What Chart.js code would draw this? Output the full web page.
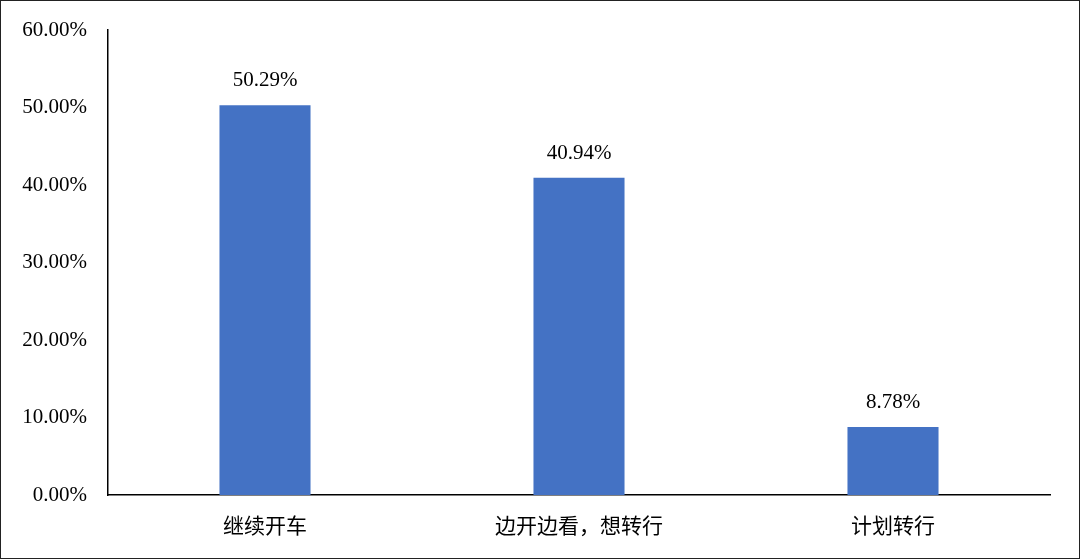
<!DOCTYPE html>
<html>
<head>
<meta charset="utf-8">
<script src="https://cdn.jsdelivr.net/npm/chart.js"></script>
<style>
  html, body { margin: 0; padding: 0; background: #fff; }
  #wrap { position: relative; width: 1078px; height: 557px; border: 1px solid #222; }
</style>
</head>
<body>
<div id="wrap"><canvas id="c" width="1078" height="557"></canvas></div>
<script>
const categories = ["继续开车", "边开边看，想转行", "计划转行"];
const values = [50.29, 40.94, 8.78];
const yTicks = [0, 10, 20, 30, 40, 50, 60];

const serif = "'Liberation Serif', 'Times New Roman', serif";
const cjk = "'Noto Sans CJK SC', 'Liberation Serif', serif";

// labels above each bar
const valueLabels = {
  id: "valueLabels",
  afterDatasetsDraw(chart) {
    const ctx = chart.ctx;
    const meta = chart.getDatasetMeta(0);
    ctx.save();
    ctx.font = "21px " + serif;
    ctx.fillStyle = "#000";
    ctx.textAlign = "center";
    ctx.textBaseline = "bottom";
    meta.data.forEach((bar, i) => {
      ctx.fillText(values[i].toFixed(2) + "%", bar.x, bar.y - 14);
    });
    ctx.restore();
  }
};

new Chart(document.getElementById("c"), {
  type: "bar",
  data: {
    labels: categories,
    datasets: [{
      data: values,
      backgroundColor: "#4472C4",
      barPercentage: 0.58,
      categoryPercentage: 0.5
    }]
  },
  options: {
    responsive: false,
    animation: false,
    layout: { padding: { top: 29, right: 29, left: 0, bottom: 0 } },
    plugins: { legend: { display: false }, tooltip: { enabled: false } },
    scales: {
      y: {
        min: 0, max: 60,
        afterBuildTicks(scale) { scale.ticks = yTicks.map(v => ({ value: v })); },
        afterFit(scale) { scale.width = 107; },
        grid: { display: false },
        border: { display: true, color: "#000", width: 1.5 },
        ticks: {
          color: "#000",
          font: { family: serif, size: 21 },
          padding: 13,
          callback: v => v.toFixed(2) + "%"
        }
      },
      x: {
        afterFit(scale) { scale.height = 63; },
        grid: { display: false },
        border: { display: true, color: "#000", width: 1.5 },
        ticks: { color: "#000", font: { family: cjk, size: 21 }, padding: 9 }
      }
    }
  },
  plugins: [valueLabels]
});
</script>
</body>
</html>
